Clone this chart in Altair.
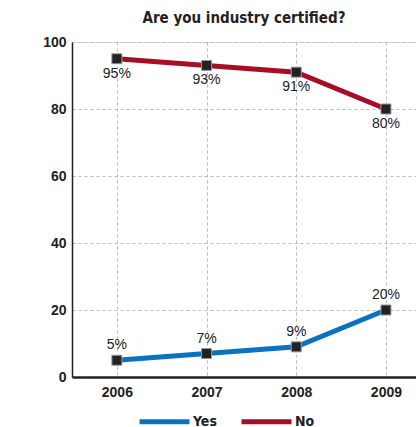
import altair as alt
import pandas as pd

years = [2006, 2007, 2008, 2009]
yes_vals = [5, 7, 9, 20]
no_vals = [95, 93, 91, 80]
series = ["Yes", "No"]
colors = ["#0b72c0", "#a50f26"]

rows = []
for y, v in zip(years, yes_vals):
    rows.append({"year": y, "value": v, "series": "Yes", "label": f"{v}%"})
for y, v in zip(years, no_vals):
    rows.append({"year": y, "value": v, "series": "No", "label": f"{v}%"})
df = pd.DataFrame(rows)

NARROW = "DejaVu Sans Condensed, Roboto, sans-serif"
SANS = "Liberation Sans"

x = alt.X("year:Q", scale=alt.Scale(domain=[2005.5, 2009.335], nice=False, zero=False),
          axis=alt.Axis(values=years, format="d", title=None, labelFont=SANS, labelFontSize=14,
                        labelFontWeight="bold", labelColor="#222", labelPadding=8,
                        grid=True, gridDash=[3, 3], gridColor="#bbbbbb", ticks=False,
                        domainColor="#222", domainWidth=2.5))
y = alt.Y("value:Q", scale=alt.Scale(domain=[0, 100], nice=False),
          axis=alt.Axis(values=[0, 20, 40, 60, 80, 100], title=None, labelFont=SANS, labelFontSize=14,
                        labelFontWeight="bold", labelColor="#222", labelPadding=6,
                        grid=True, gridDash=[3, 3], gridColor="#bbbbbb", ticks=False,
                        domainColor="#222", domainWidth=1.5))
color = alt.Color("series:N", scale=alt.Scale(domain=series, range=colors),
                  legend=alt.Legend(title=None, orient="none", direction="horizontal",
                                    legendX=65, legendY=352, symbolType="stroke",
                                    symbolSize=2500, symbolStrokeWidth=5,
                                    labelFont=NARROW, labelFontSize=14, labelFontWeight="bold",
                                    labelColor="#222", columnPadding=14, labelOffset=1))

base = alt.Chart(df)
lines = base.mark_line(strokeWidth=5).encode(x=x, y=y, color=color, detail="series:N")
points = base.mark_point(shape="square", size=100, filled=True, fill="#222222",
                         stroke="#999999", strokeWidth=1, opacity=1).encode(x=x, y=y, detail="series:N")
text_yes = base.transform_filter(alt.datum.series == "Yes").mark_text(
    dy=-15, font=SANS, fontSize=14, color="#222").encode(x=x, y=y, text="label:N")
text_no = base.transform_filter(alt.datum.series == "No").mark_text(
    dy=15, font=SANS, fontSize=14, color="#222").encode(x=x, y=y, text="label:N")

chart = alt.layer(lines, points, text_yes, text_no).properties(
    width=344, height=335,
    title=alt.TitleParams("Are you industry certified?", font=NARROW, fontSize=15,
                          fontWeight="bold", color="#222", anchor="middle", offset=9),
    autosize=alt.AutoSizeParams(type="none"),
    padding={"left": 72, "top": 42, "right": 0, "bottom": 50},
).configure_view(stroke=None).configure(background="white")

chart.save("out.html", embed_options={"renderer": "svg", "actions": False})
